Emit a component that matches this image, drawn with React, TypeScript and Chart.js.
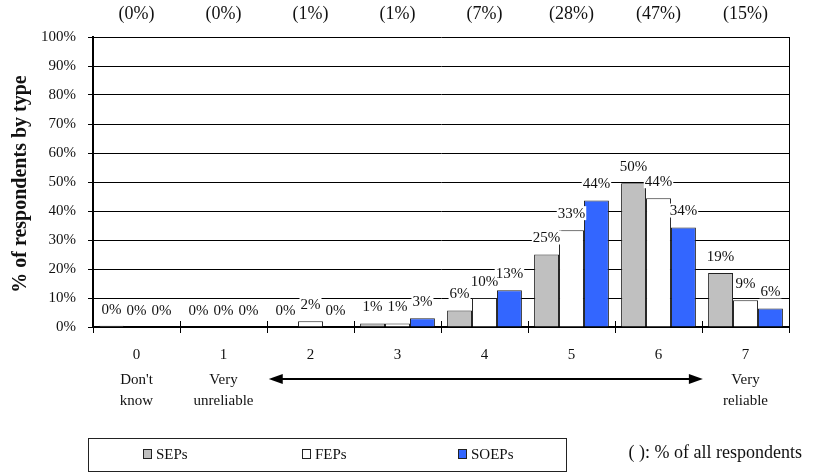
import React, { useEffect, useRef } from "react";
import { Chart, registerables } from "chart.js";

Chart.register(...registerables);

const categories = ["0", "1", "2", "3", "4", "5", "6", "7"];
const subLabels: string[][] = [["Don't", "know"], ["Very", "unreliable"], [], [], [], [], [], ["Very", "reliable"]];
const allRespondentShares = [0, 0, 1, 1, 7, 28, 47, 15];
const sepValues = [0.45, 0, 0, 1.2, 5.7, 25.0, 49.6, 18.6];
const fepValues = [0, 0, 2, 1.2, 10, 33.4, 44.4, 9.2];
const soepValues = [0, 0, 0, 3, 12.7, 43.6, 34.3, 6.4];
const seriesNames = ["SEPs", "FEPs", "SOEPs"];
const seriesColors = ["#C0C0C0", "#FFFFFF", "#3366FF"];
const yTitle = "% of respondents by type";
const noteText = "( ): % of all respondents";

const FONT = '"Liberation Serif", "Times New Roman", serif';

const decor = {
  id: "decor",
  afterDatasetsDraw(chart: any) {
    const ctx = chart.ctx;
    ctx.save();
    ctx.font = `15px ${FONT}`;
    ctx.textAlign = "center";
    ctx.textBaseline = "middle";
    chart.data.datasets.forEach((ds: any, di: number) => {
      const meta = chart.getDatasetMeta(di);
      meta.data.forEach((bar: any, i: number) => {
        const txt = Math.round(ds.data[i]) + "%";
        const w = ctx.measureText(txt).width;
        const cy = bar.y - 17;
        ctx.fillStyle = "#fff";
        ctx.fillRect(bar.x - w / 2 - 1, cy - 7, w + 2, 14);
        ctx.fillStyle = "#111";
        ctx.fillText(txt, bar.x, cy + 1);
      });
    });
    ctx.restore();
  },
  afterDraw(chart: any) {
    const ctx = chart.ctx;
    const xs = chart.scales.x;
    const area = chart.chartArea;
    const catW = xs.getPixelForValue(1) - xs.getPixelForValue(0);
    ctx.save();
    // right border
    ctx.strokeStyle = "#000";
    ctx.lineWidth = 1;
    ctx.beginPath();
    ctx.moveTo(area.right + 0.5, area.top);
    ctx.lineTo(area.right + 0.5, area.bottom);
    ctx.stroke();
    // upper part of x tick marks
    for (let i = 1; i <= categories.length; i++) {
      const px = Math.round(xs.getPixelForValue(i) - catW / 2) + 0.5;
      ctx.beginPath();
      ctx.moveTo(px, area.bottom - 6);
      ctx.lineTo(px, area.bottom);
      ctx.stroke();
    }
    // top shares
    ctx.fillStyle = "#111";
    ctx.font = `18px ${FONT}`;
    ctx.textAlign = "center";
    ctx.textBaseline = "middle";
    allRespondentShares.forEach((v, i) => {
      ctx.fillText(`(${v}%)`, xs.getPixelForValue(i), 14);
    });
    // sub labels
    ctx.font = `15px ${FONT}`;
    subLabels.forEach((lines, i) => {
      lines.forEach((t, j) => {
        ctx.fillText(t, xs.getPixelForValue(i), 380 + j * 21);
      });
    });
    // arrow
    const ax0 = xs.getPixelForValue(1) + catW * 0.52;
    const ax1 = xs.getPixelForValue(7) - catW * 0.49;
    const ay = 379;
    ctx.lineWidth = 2;
    ctx.strokeStyle = "#000";
    ctx.beginPath();
    ctx.moveTo(ax0 + 12, ay);
    ctx.lineTo(ax1 - 12, ay);
    ctx.stroke();
    ctx.fillStyle = "#000";
    ctx.beginPath();
    ctx.moveTo(ax0, ay);
    ctx.lineTo(ax0 + 14, ay - 5);
    ctx.lineTo(ax0 + 14, ay + 5);
    ctx.closePath();
    ctx.fill();
    ctx.beginPath();
    ctx.moveTo(ax1, ay);
    ctx.lineTo(ax1 - 14, ay - 5);
    ctx.lineTo(ax1 - 14, ay + 5);
    ctx.closePath();
    ctx.fill();
    // y title
    ctx.save();
    ctx.translate(21, (area.top + area.bottom) / 2 + 2);
    ctx.rotate(-Math.PI / 2);
    ctx.font = `bold 20px ${FONT}`;
    ctx.fillStyle = "#111";
    ctx.fillText(yTitle, 0, 0);
    ctx.restore();
    // legend
    ctx.lineWidth = 1;
    ctx.strokeStyle = "#222";
    ctx.strokeRect(88.5, 438.5, 478, 33);
    const itemX = [143, 302, 458];
    ctx.font = `15px ${FONT}`;
    ctx.textAlign = "left";
    seriesNames.forEach((n, i) => {
      ctx.fillStyle = seriesColors[i];
      ctx.fillRect(itemX[i] + 0.5, 449.5, 8, 9);
      ctx.strokeStyle = "#222";
      ctx.strokeRect(itemX[i] + 0.5, 449.5, 8, 9);
      ctx.fillStyle = "#111";
      ctx.fillText(n, itemX[i] + 13, 455);
    });
    ctx.font = `18px ${FONT}`;
    ctx.textAlign = "right";
    ctx.fillText(noteText, 802, 453);
    ctx.restore();
  },
};

export default function App() {
  const ref = useRef<HTMLCanvasElement | null>(null);
  useEffect(() => {
    if (!ref.current) return;
    const datasets = [sepValues, fepValues, soepValues].map((d, i) => ({
      label: seriesNames[i],
      data: d,
      backgroundColor: seriesColors[i],
      borderColor: "#222",
      borderWidth: 1,
      categoryPercentage: 0.86,
      barPercentage: 1.0,
    }));
    const chart = new Chart(ref.current, {
      type: "bar",
      data: { labels: categories, datasets },
      options: {
        responsive: false,
        animation: false,
        layout: { padding: { top: 37, right: 24, bottom: 0, left: 0 } },
        plugins: { legend: { display: false }, tooltip: { enabled: false } },
        scales: {
          x: {
            grid: { display: true, drawOnChartArea: false, drawTicks: true, tickLength: 6, color: "#000", lineWidth: 1 },
            border: { display: true, color: "#000", width: 2 },
            ticks: { font: { family: FONT, size: 15 }, color: "#111", padding: 13, maxRotation: 0 },
            afterFit: (s: any) => {
              s.height = 145;
            },
          },
          y: {
            min: 0,
            max: 100,
            ticks: { stepSize: 10, callback: (v: any) => v + "%", font: { family: FONT, size: 15 }, color: "#111", padding: 12 },
            grid: { color: "#000", lineWidth: 1, tickLength: 5 },
            border: { display: true, color: "#000", width: 2 },
            afterFit: (s: any) => {
              s.width = 93;
            },
          },
        },
      } as any,
      plugins: [decor],
    });
    return () => chart.destroy();
  }, []);
  return (
    <div style={{ position: "fixed", left: 0, top: 0, width: 813, height: 472, background: "#fff" }}>
      <canvas ref={ref} width={813} height={472} style={{ display: "block" }} />
    </div>
  );
}
